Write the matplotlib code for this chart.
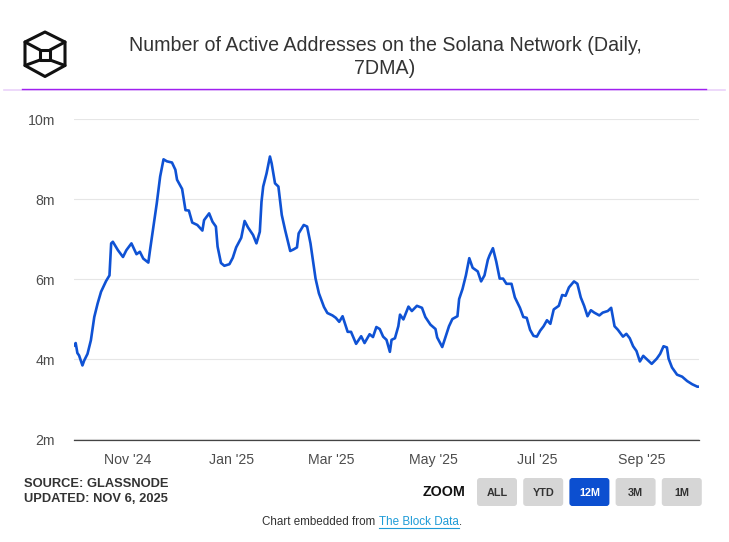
"""Active addresses on Solana (7DMA), re-drawn from The Block Data chart."""
import matplotlib.pyplot as plt
import matplotlib.dates as mdates
import pandas as pd
from matplotlib.patches import FancyBboxPatch, Polygon

plt.rcParams["font.family"] = ["Liberation Sans", "DejaVu Sans"]

LINE = "#0f52d4"
GRID = "#e6e6e6"
TXT = "#333333"

# daily 7DMA, millions of active addresses
dates = [
    "2024-09-30", "2024-10-01", "2024-10-02", "2024-10-03", "2024-10-05", "2024-10-06",
    "2024-10-08", "2024-10-10", "2024-10-12", "2024-10-14", "2024-10-16", "2024-10-19",
    "2024-10-21", "2024-10-22", "2024-10-23", "2024-10-26", "2024-10-29", "2024-10-31",
    "2024-11-03", "2024-11-06", "2024-11-08", "2024-11-10", "2024-11-13", "2024-11-14",
    "2024-11-16", "2024-11-18", "2024-11-20", "2024-11-22", "2024-11-24", "2024-11-27",
    "2024-11-29", "2024-11-30", "2024-12-03", "2024-12-05", "2024-12-07", "2024-12-09",
    "2024-12-12", "2024-12-15", "2024-12-16", "2024-12-19", "2024-12-21", "2024-12-23",
    "2024-12-24", "2024-12-26", "2024-12-28", "2024-12-31", "2025-01-02", "2025-01-04",
    "2025-01-07", "2025-01-09", "2025-01-11", "2025-01-14", "2025-01-16", "2025-01-18",
    "2025-01-19", "2025-01-20", "2025-01-22", "2025-01-24", "2025-01-25", "2025-01-27",
    "2025-01-29", "2025-01-31", "2025-02-02", "2025-02-05", "2025-02-07", "2025-02-09",
    "2025-02-10", "2025-02-13", "2025-02-15", "2025-02-17", "2025-02-20", "2025-02-22",
    "2025-02-25", "2025-02-27", "2025-03-02", "2025-03-04", "2025-03-06", "2025-03-08",
    "2025-03-11", "2025-03-13", "2025-03-16", "2025-03-19", "2025-03-21", "2025-03-24",
    "2025-03-26", "2025-03-28", "2025-03-30", "2025-04-01", "2025-04-03", "2025-04-05",
    "2025-04-06", "2025-04-08", "2025-04-10", "2025-04-11", "2025-04-13", "2025-04-16",
    "2025-04-18", "2025-04-21", "2025-04-24", "2025-04-26", "2025-04-29", "2025-05-02",
    "2025-05-03", "2025-05-06", "2025-05-08", "2025-05-10", "2025-05-12", "2025-05-15",
    "2025-05-16", "2025-05-18", "2025-05-20", "2025-05-22", "2025-05-24", "2025-05-27",
    "2025-05-29", "2025-05-31", "2025-06-02", "2025-06-03", "2025-06-05", "2025-06-07",
    "2025-06-09", "2025-06-11", "2025-06-13", "2025-06-16", "2025-06-18", "2025-06-21",
    "2025-06-23", "2025-06-25", "2025-06-27", "2025-06-29", "2025-07-01", "2025-07-03",
    "2025-07-05", "2025-07-07", "2025-07-09", "2025-07-11", "2025-07-14", "2025-07-16",
    "2025-07-18", "2025-07-20", "2025-07-23", "2025-07-25", "2025-07-27", "2025-07-29",
    "2025-07-31", "2025-08-02", "2025-08-04", "2025-08-07", "2025-08-09", "2025-08-12",
    "2025-08-14", "2025-08-16", "2025-08-18", "2025-08-21", "2025-08-23", "2025-08-25",
    "2025-08-27", "2025-08-29", "2025-08-31", "2025-09-02", "2025-09-05", "2025-09-07",
    "2025-09-10", "2025-09-12", "2025-09-14", "2025-09-16", "2025-09-17", "2025-09-19",
    "2025-09-22", "2025-09-25", "2025-09-28", "2025-10-01", "2025-10-04", "2025-10-05",
]
active_m = [
    4.35, 4.41, 4.16, 4.10, 3.85, 3.97,
    4.14, 4.48, 5.06, 5.40, 5.69, 5.96,
    6.10, 6.90, 6.94, 6.73, 6.56, 6.73,
    6.90, 6.63, 6.69, 6.52, 6.42, 6.73,
    7.32, 7.90, 8.57, 9.00, 8.95, 8.92,
    8.74, 8.49, 8.26, 7.73, 7.72, 7.42,
    7.36, 7.22, 7.48, 7.65, 7.44, 7.32,
    6.82, 6.41, 6.34, 6.38, 6.54, 6.80,
    7.04, 7.46, 7.30, 7.11, 6.90, 7.19,
    7.94, 8.32, 8.65, 9.07, 8.90, 8.40,
    8.32, 7.61, 7.23, 6.71, 6.75, 6.80,
    7.15, 7.36, 7.32, 6.90, 6.02, 5.65,
    5.31, 5.16, 5.10, 5.04, 4.94, 5.08,
    4.69, 4.69, 4.39, 4.58, 4.41, 4.63,
    4.56, 4.81, 4.76, 4.57, 4.49, 4.19,
    4.49, 4.53, 4.83, 5.12, 5.00, 5.32,
    5.21, 5.34, 5.29, 5.06, 4.87, 4.76,
    4.55, 4.31, 4.57, 4.83, 5.01, 5.08,
    5.51, 5.76, 6.10, 6.53, 6.29, 6.20,
    5.95, 6.10, 6.49, 6.60, 6.78, 6.44,
    6.02, 6.02, 5.89, 5.89, 5.55, 5.29,
    5.06, 5.04, 4.74, 4.59, 4.57, 4.72,
    4.83, 4.98, 4.89, 5.25, 5.34, 5.61,
    5.59, 5.80, 5.95, 5.89, 5.55, 5.34,
    5.08, 5.23, 5.17, 5.10, 5.17, 5.21,
    5.29, 4.83, 4.74, 4.57, 4.64, 4.53,
    4.33, 4.21, 3.95, 4.09, 3.97, 3.89,
    4.02, 4.14, 4.33, 4.30, 4.02, 3.80,
    3.62, 3.57, 3.46, 3.38, 3.32, 3.32,
]
y_ticks = [2, 4, 6, 8, 10]
zoom_buttons = ["ALL", "YTD", "12M", "3M", "1M"]
active_button = "12M"

W, H = 729, 542
fig = plt.figure(figsize=(W / 100, H / 100), dpi=100)
fig.patch.set_facecolor("white")

# ---- main chart ----
ax = fig.add_axes([74 / W, 1 - 439.5 / H, (699 - 74) / W, (439.5 - 119.3) / H])
x = pd.to_datetime(dates)
ax.plot(x, active_m, color=LINE, lw=1.9, solid_joinstyle="round", zorder=3)
ax.set_xlim(x[0], x[-1])
ax.set_ylim(2, 10)
ax.set_yticks(y_ticks)
ax.set_yticklabels([f"{v}m" for v in y_ticks])
ax.xaxis.set_major_locator(mdates.MonthLocator(bymonth=[1, 3, 5, 7, 9, 11]))
ax.xaxis.set_major_formatter(mdates.DateFormatter("%b '%y"))
ax.grid(axis="y", color=GRID, lw=0.8)
ax.set_axisbelow(True)
for s in ("left", "right", "top"):
    ax.spines[s].set_visible(False)
ax.spines["bottom"].set_color("#444444")
ax.spines["bottom"].set_linewidth(0.9)
ax.tick_params(axis="y", length=0, pad=13.5, labelsize=10.2, labelcolor="#4d4d4d")
ax.tick_params(axis="x", length=0, pad=9.5, labelsize=10.2, labelcolor="#4d4d4d")

# ---- overlay in pixel coords for header / footer ----
ov = fig.add_axes([0, 0, 1, 1], zorder=5)
ov.set_xlim(0, W)
ov.set_ylim(H, 0)
ov.axis("off")
ov.patch.set_alpha(0)

# logo (cube seen from inside)
hexagon = [(45, 32), (65, 42), (65, 65.5), (45, 76.5), (25, 65.5), (25, 42)]
inner = [(40, 50), (50, 50), (50, 60), (40, 60)]
ov.add_patch(Polygon(hexagon, closed=True, fill=False, ec="#111111", lw=2.2, joinstyle="round"))
ov.add_patch(Polygon(inner, closed=True, fill=False, ec="#111111", lw=2.2, joinstyle="round"))
for (x0, y0), (x1, y1) in [((25, 42), (40, 50)), ((65, 42), (50, 50)),
                           ((25, 65.5), (40, 60)), ((65, 65.5), (50, 60))]:
    ov.plot([x0, x1], [y0, y1], color="#111111", lw=2.2, solid_capstyle="round")

ov.text(385, 45.5, "Number of Active Addresses on the Solana Network (Daily,",
        ha="center", va="center", fontsize=14.1, color=TXT)
ov.text(385, 68, "7DMA)", ha="center", va="center", fontsize=14.1, color=TXT)

ov.plot([4, 725], [89.8, 89.8], color="#ead2fa", lw=1.2)
ov.plot([22, 706], [89.3, 89.3], color="#a020f0", lw=1.0)

# footer
ov.text(24, 484, "SOURCE: GLASSNODE", ha="left", va="center", fontsize=9.3,
        fontweight="bold", color=TXT)
ov.text(24, 499, "UPDATED: NOV 6, 2025", ha="left", va="center", fontsize=9.3,
        fontweight="bold", color=TXT)
ov.text(466, 492, "ZOOM", ha="right", va="center", fontsize=10.3,
        fontweight="bold", color="#111111")

bx = 477
for lab in zoom_buttons:
    on = lab == active_button
    ov.add_patch(FancyBboxPatch((bx, 478), 40, 28,
                                boxstyle="round,pad=0,rounding_size=3",
                                fc="#0c4fd0" if on else "#d6d6d6", ec="none"))
    ov.text(bx + 20, 492.5, lab, ha="center", va="center", fontsize=7.8,
            fontweight="bold", color="white" if on else TXT)
    bx += 46.2

# "Chart embedded from The Block Data."
fig.canvas.draw()
r = fig.canvas.get_renderer()
parts = [("Chart embedded from ", TXT), ("The Block Data", "#1e9bd7"), (".", TXT)]
widths = []
for s, _ in parts:
    t = ov.text(0, 0, s, fontsize=8.4)
    widths.append(t.get_window_extent(r).width)
    t.remove()
cur = 362 - sum(widths) / 2
for (s, c), w in zip(parts, widths):
    ov.text(cur, 522, s, ha="left", va="center", fontsize=8.4, color=c)
    if s == "The Block Data":
        ov.plot([cur, cur + w], [528, 528], color=c, lw=0.8)
    cur += w

fig.savefig("out.png", dpi=100)
